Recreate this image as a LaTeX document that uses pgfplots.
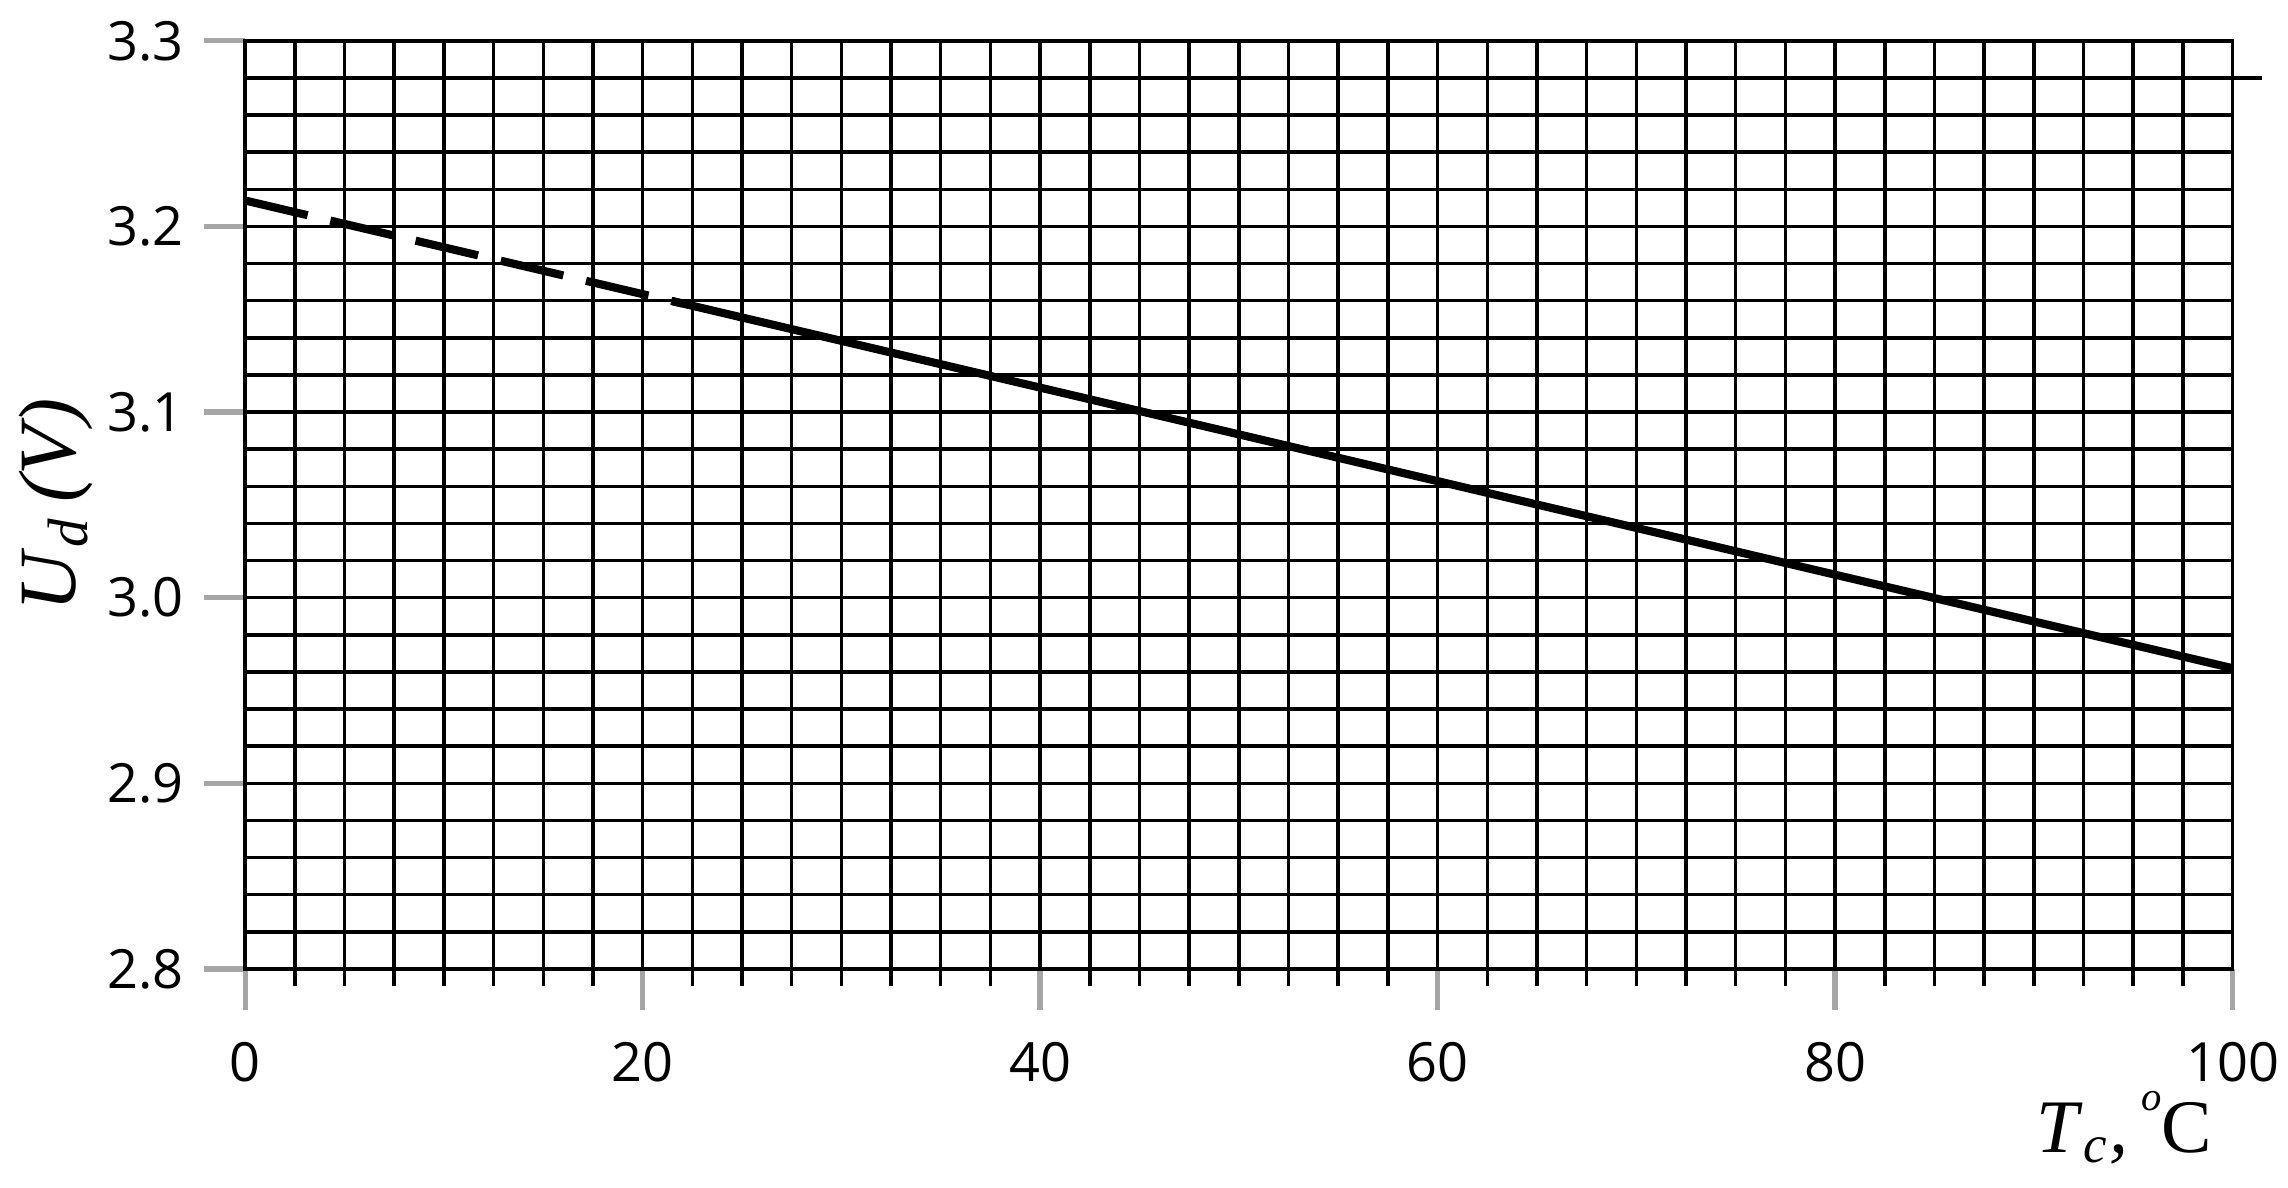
\documentclass[border=0pt]{standalone}
\usepackage{fontspec}
\setmainfont{Open Sans}
\newfontfamily\lserif{Liberation Serif}
\usepackage{pgfplots}
\pgfplotsset{compat=1.18}
\begin{document}
\begin{tikzpicture}
\begin{axis}[
  scale only axis,
  width=340.5bp, height=159bp,
  xmin=0, xmax=100, ymin=2.8, ymax=3.3,
  xtick={0,20,...,100},
  ytick={2.8,2.9,...,3.3},
  minor x tick num=7,
  minor y tick num=4,
  tick pos=left,
  grid=both,
  major grid style={black, line width=0.6pt},
  minor grid style={black, line width=0.6pt},
  axis line style={black, line width=0.6pt},
  tick align=outside,
  major tick length=7bp,
  minor tick length=3bp,
  major tick style={black!35, line width=0.9pt},
  minor x tick style={black, line width=0.6pt},
  minor y tick style={draw=none},
  /pgf/number format/assume math mode=true,
  ticklabel style={font=\fontsize{9.3}{11}\selectfont},
  yticklabel style={/pgf/number format/.cd, fixed, fixed zerofill, precision=1},
  xticklabel style={yshift=-2bp},
  clip=false,
  xlabel={\lserif\fontsize{13}{15}\selectfont\textit{T}\textsubscript{\textit{c}}\textit{,}\,\raisebox{1.2ex}{\fontsize{7}{8}\selectfont\textit{o}}C},
  every axis x label/.style={at={(rel axis cs:1,0)}, anchor=north east, yshift=-17.5bp},
  ylabel={\lserif\fontsize{14}{16}\selectfont\textit{U}\textsubscript{\textit{d}}\,\textit{(V)}},
  every axis y label/.style={at={(rel axis cs:0,0.5)}, rotate=90, anchor=center, yshift=32.5bp},
]
\coordinate (bl) at (rel axis cs:0,0);
\coordinate (tr) at (rel axis cs:1,1);
% stray grid line on the right
\addplot[black, line width=0.6pt, forget plot] coordinates {(95,3.28) (101.5,3.28)};
% extrapolated part
\addplot[black, line width=1.4pt, dash pattern=on 11bp off 4bp] coordinates {
(0,3.214) (22,3.1585)
};
% measured part
\addplot[black, line width=1.4pt] coordinates {
(21.5,3.1598) (100,2.962)
};
\end{axis}
\pgfresetboundingbox
\path ([shift={(-42bp,-37.5bp)}]bl) rectangle ([shift={(9.5bp,7bp)}]tr);
\end{tikzpicture}
\end{document}
